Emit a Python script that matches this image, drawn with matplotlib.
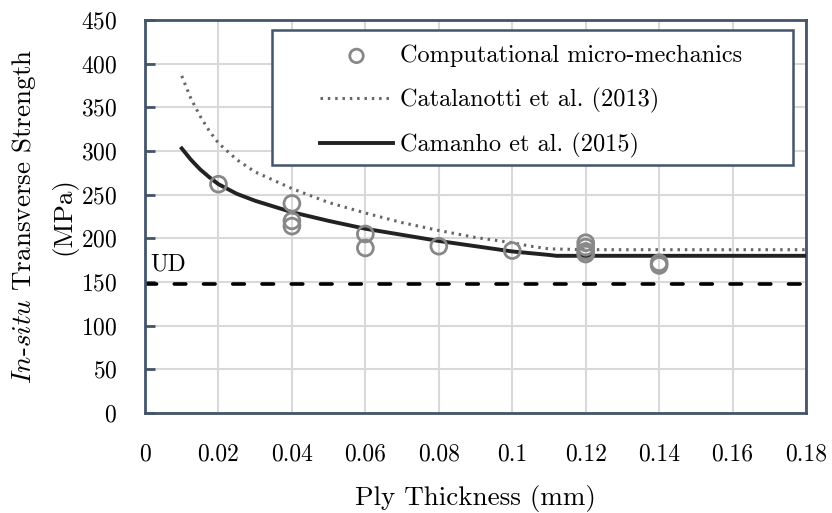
import matplotlib.pyplot as plt
from matplotlib.patches import Rectangle

plt.rcParams['font.family'] = 'cmr10'
plt.rcParams['mathtext.fontset'] = 'cm'
plt.rcParams['axes.formatter.use_mathtext'] = True

# Computational micro-mechanics (scatter)
micro_x = [0.02, 0.04, 0.04, 0.04, 0.06, 0.06, 0.08, 0.10, 0.12, 0.12, 0.12, 0.12, 0.14, 0.14]
micro_y = [262, 240, 220, 214, 205, 189, 191, 186, 195, 190, 185, 182, 172, 169]

# Catalanotti et al. (2013)
cat_x = [0.01, 0.0125, 0.015, 0.0175, 0.02, 0.025, 0.03, 0.04, 0.05, 0.06, 0.07, 0.08, 0.09, 0.10,
         0.105, 0.11, 0.12, 0.14, 0.16, 0.18]
cat_y = [386, 360, 340, 323, 309, 290, 276, 257, 241, 229, 218, 209, 201, 195,
         191, 188, 187, 187, 187, 187]

# Camanho et al. (2015)
cam_x = [0.01, 0.0125, 0.015, 0.0175, 0.02, 0.025, 0.03, 0.04, 0.05, 0.06, 0.07, 0.08, 0.09, 0.10,
         0.105, 0.11, 0.112, 0.14, 0.16, 0.18]
cam_y = [303, 290, 279, 270, 262, 251, 243, 230, 220, 211, 204, 197, 191, 185,
         183, 181, 180, 180, 180, 180]

ud_value = 148

frame_col = '#44546A'

fig = plt.figure(figsize=(8.32, 5.13), dpi=100)
ax = fig.add_axes([0.1743, 0.1949, 0.9688 - 0.1743, 0.961 - 0.1949])

ax.plot(cam_x, cam_y, color='#222222', lw=2.8, label='Camanho et al. (2015)', zorder=3)
ax.plot(cat_x, cat_y, color='#666666', lw=2.2, ls=(0, (0.8, 1.6)), label='Catalanotti et al. (2013)', zorder=3)
ax.scatter(micro_x, micro_y, s=130, facecolors='none', edgecolors='#888888', linewidths=2.0,
           label='Computational micro-mechanics', zorder=4)
ax.axhline(ud_value, color='black', lw=2.6, ls=(0, (3.2, 4.9)), dash_capstyle='round', zorder=2)
ax.text(0.0015, ud_value + 9, 'UD', fontsize=17, va='bottom', ha='left')

ax.set_xlim(0, 0.18)
ax.set_ylim(0, 450)
ax.set_xticks([0, 0.02, 0.04, 0.06, 0.08, 0.1, 0.12, 0.14, 0.16, 0.18])
ax.set_xticklabels(['0', '0.02', '0.04', '0.06', '0.08', '0.1', '0.12', '0.14', '0.16', '0.18'])
ax.set_yticks(range(0, 451, 50))

ax.grid(True, color='#d9d9d9', lw=1.5)
ax.set_axisbelow(True)
for sp in ax.spines.values():
    sp.set_color(frame_col)
    sp.set_linewidth(2)

ax.tick_params(axis='y', direction='in', length=7, width=2, color=frame_col, labelsize=17, pad=20)
ax.tick_params(axis='x', length=0, labelsize=17, pad=22)

ax.set_xlabel('Ply Thickness (mm)', fontsize=19.5, labelpad=14)

# y label: two lines, centred on the axes
yc = (0.1949 + 0.961) / 2
fig.text(24 / 832, yc, r'$\mathit{In}$-$\mathit{situ}$ Transverse Strength', rotation=90,
         fontsize=19.5, ha='center', va='center')
fig.text(64 / 832, yc, '(MPa)', rotation=90, fontsize=19.5, ha='center', va='center')

# legend box drawn by hand (wider horizontal padding than the legend frame allows)
box = Rectangle((0.1917, 0.631), 0.9803 - 0.1917, 0.9746 - 0.631, transform=ax.transAxes,
                facecolor='white', edgecolor=frame_col, lw=1.8, zorder=5)
ax.add_patch(box)

h, l = ax.get_legend_handles_labels()
order = [2, 1, 0]
leg = ax.legend([h[i] for i in order], [l[i] for i in order], loc='upper left',
                bbox_to_anchor=(0.2648, 0.937), fontsize=17.5, handlelength=3.0,
                labelspacing=0.84, borderpad=0, handletextpad=0.3, frameon=False,
                borderaxespad=0, markerscale=0.85)
leg.set_zorder(6)

fig.savefig('out.png', dpi=100)
